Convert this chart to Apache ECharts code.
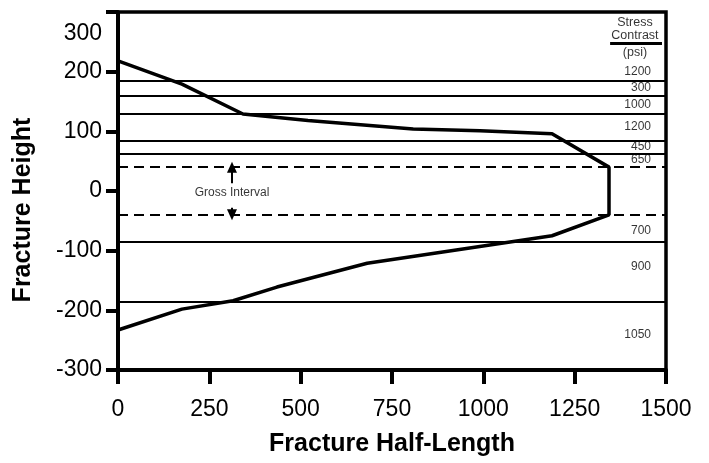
<!DOCTYPE html>
<html>
<head>
<meta charset="utf-8">
<script src="https://cdn.jsdelivr.net/npm/echarts@6/dist/echarts.min.js"></script>
<style>html,body{margin:0;padding:0;background:#fff;}#c{width:709px;height:463px;}</style>
</head>
<body>
<div id="c"></div>
<script>
// Fracture profile (half-length vs height)
const curveX = [0, 175, 342, 520, 808, 991, 1188, 1344, 1344, 1188, 682, 435, 315, 175, 0];
const curveY = [218, 179, 129, 118, 104, 101, 96, 40, -40, -75, -121, -161, -184, -198, -233];
// Layer boundaries
const solidBounds = [185, 160, 130, 85, 62, -85, -185];
const dashedBounds = [40, -40];
// Stress contrast labels (psi) and their heights
const stressValues = ['1200', '300', '1000', '1200', '450', '650', '700', '900', '1050'];
const stressLabelY = [200, 173, 145, 108, 74, 52, -67, -127, -240];
const stressLabelX = 1459;
const headerText = ['Stress', 'Contrast', '(psi)'];
const headerY = [282, 260, 232];
const headerX = 1415;
const underline = {x1: 1347, x2: 1489, y: 247};
// Gross interval annotation
const grossText = 'Gross Interval';
const grossX = 312, grossY = -2;
const arrowUp = [13, 40];
const arrowDown = [-28, -40];
// Axes
const xMin = 0, xMax = 1500, xStep = 250;
const yMin = -300, yMax = 300, yStep = 100;

const FONT = '"Liberation Sans", Arial, Helvetica, sans-serif';
const chart = echarts.init(document.getElementById('c'), null, {renderer: 'canvas'});

const curveData = curveX.map((x, i) => [x, curveY[i]]);
const markLines = [];
solidBounds.forEach(v => markLines.push({yAxis: v, lineStyle: {type: 'solid', width: 2, color: '#000'}}));
dashedBounds.forEach(v => markLines.push({yAxis: v, lineStyle: {type: [10, 6], width: 2, color: '#000'}}));
markLines.push([{coord: [underline.x1, underline.y], lineStyle: {type: 'solid', width: 3, color: '#000'}}, {coord: [underline.x2, underline.y]}]);

const arrowLines = [
  [{coord: [grossX, arrowUp[0]]}, {coord: [grossX, arrowUp[1]]}],
  [{coord: [grossX, arrowDown[0]]}, {coord: [grossX, arrowDown[1]]}]
];

const option = {
  animation: false,
  backgroundColor: '#fff',
  grid: {left: 118, right: 43, top: 12, bottom: 93, show: true, borderColor: '#000', borderWidth: 3.5, backgroundColor: 'transparent'},
  xAxis: {
    type: 'value', min: xMin, max: xMax, interval: xStep,
    name: 'Fracture Half-Length', nameLocation: 'middle', nameGap: 62,
    nameTextStyle: {fontFamily: FONT, fontSize: 25, fontWeight: 'bold', color: '#000'},
    axisLine: {show: true, onZero: false, lineStyle: {color: '#000', width: 4}},
    axisTick: {show: true, inside: false, length: 14, lineStyle: {color: '#000', width: 4}},
    axisLabel: {fontFamily: FONT, fontSize: 23, color: '#000', margin: 28, formatter: v => String(v)},
    splitLine: {show: false}
  },
  yAxis: {
    type: 'value', min: yMin, max: yMax, interval: yStep,
    name: 'Fracture Height', nameLocation: 'middle', nameGap: 82,
    nameTextStyle: {fontFamily: FONT, fontSize: 25, fontWeight: 'bold', color: '#000', padding: [0, 38, 0, 0]},
    axisLine: {show: true, onZero: false, lineStyle: {color: '#000', width: 4}},
    axisTick: {show: true, length: 12, lineStyle: {color: '#000', width: 4}},
    axisLabel: {
      fontFamily: FONT, fontSize: 23, color: '#000', margin: 16,
      formatter: v => v === yMax ? '{t|' + v + '}' : String(v),
      rich: {t: {fontFamily: FONT, fontSize: 23, color: '#000', padding: [44, 0, 0, 0]}}
    },
    splitLine: {show: false}
  },
  series: [
    {
      type: 'line', data: curveData, showSymbol: false, symbol: 'none',
      lineStyle: {color: '#000', width: 3.5}, z: 5,
      markLine: {silent: true, symbol: 'none', label: {show: false}, data: markLines, z: 3}
    },
    {
      type: 'line', data: [], z: 4,
      markLine: {
        silent: true, symbol: ['none', 'triangle'], symbolSize: [10, 11],
        label: {show: false}, lineStyle: {color: '#000', width: 2, type: 'solid'},
        data: arrowLines
      }
    },
    {
      type: 'scatter', symbolSize: 0, silent: true, z: 6,
      data: stressValues.map((t, i) => ({value: [stressLabelX, stressLabelY[i]], name: t})),
      label: {show: true, position: 'left', distance: 0, formatter: p => p.name,
        fontFamily: FONT, fontSize: 12, color: '#000'}
    },
    {
      type: 'scatter', symbolSize: 0, silent: true, z: 6,
      data: headerText.map((t, i) => ({value: [headerX, headerY[i]], name: t})),
      label: {show: true, position: 'inside', formatter: p => p.name,
        fontFamily: FONT, fontSize: 12.5, color: '#000'}
    },
    {
      type: 'scatter', symbolSize: 0, silent: true, z: 6,
      data: [{value: [grossX, grossY], name: grossText}],
      label: {show: true, position: 'inside', formatter: p => p.name,
        fontFamily: FONT, fontSize: 12, color: '#000'}
    }
  ]
};
chart.setOption(option);
</script>
</body>
</html>
